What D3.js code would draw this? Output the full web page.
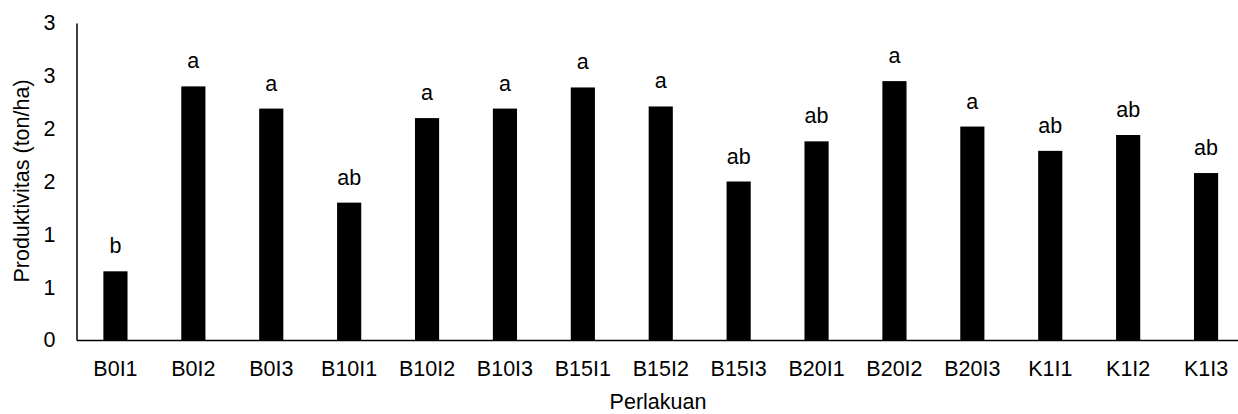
<!DOCTYPE html>
<html>
<head>
<meta charset="utf-8">
<script src="https://d3js.org/d3.v7.min.js"></script>
<style>
  body { margin: 0; background: #fff; }
  text { font-family: "Liberation Sans", Arial, sans-serif; fill: #000; }
</style>
</head>
<body>
<svg id="vis"></svg>
<script>
    // Data
    var categories = ["B0I1", "B0I2", "B0I3", "B10I1", "B10I2", "B10I3", "B15I1", "B15I2",
                      "B15I3", "B20I1", "B20I2", "B20I3", "K1I1", "K1I2", "K1I3"]
    var values = [0.65, 2.40, 2.19, 1.30, 2.10, 2.19, 2.39, 2.21, 1.50, 1.88, 2.45, 2.02, 1.79, 1.94, 1.58]
    var letters = ["b", "a", "a", "ab", "a", "a", "a", "a", "ab", "ab", "a", "a", "ab", "ab", "ab"]
    var yTicks = [0, 0.5, 1, 1.5, 2, 2.5, 3]

    var width = 1238, height = 414
    var fs = "21.5px"
    var svg = d3.select("#vis")
        .attr("width", width)
        .attr("height", height)

    // Scales
    var x = d3.scaleBand()
        .domain(categories)
        .range([76.5, 1245])
        .paddingInner(0.69)
        .paddingOuter(0.345)

    var y = d3.scaleLinear()
        .domain([0, 3])
        .range([340, 23])

    // Bars
    svg.selectAll("rect.bar")
        .data(values)
        .enter().append("rect")
        .attr("class", "bar")
        .attr("x", function(d, i) { return x(categories[i]) })
        .attr("width", x.bandwidth())
        .attr("y", function(d) { return y(d) })
        .attr("height", function(d) { return y(0) - y(d) })
        .attr("fill", "#000")

    // Significance letters
    svg.selectAll("text.lbl")
        .data(values)
        .enter().append("text")
        .attr("class", "lbl")
        .attr("x", function(d, i) { return x(categories[i]) + x.bandwidth() / 2 })
        .attr("y", function(d) { return y(d) - 18 })
        .attr("text-anchor", "middle")
        .style("font-size", fs)
        .text(function(d, i) { return letters[i] })

    // Y axis (Excel style: labels rounded to whole numbers)
    var yAxis = svg.append("g")
        .attr("transform", "translate(76.5,0)")
        .call(d3.axisLeft(y).tickValues(yTicks).tickSize(0).tickPadding(21)
            .tickFormat(function(d) { return d3.format(".0f")(d + 1e-9) }))
    yAxis.select(".domain").attr("stroke", "#000").attr("stroke-width", 1.5)
    yAxis.selectAll("text").style("font-size", fs).attr("font-family", null)

    // X axis
    var xAxis = svg.append("g")
        .attr("transform", "translate(0,340)")
        .call(d3.axisBottom(x).tickSize(0).tickPadding(21))
    xAxis.select(".domain").attr("stroke", "#000").attr("stroke-width", 1.5)
    xAxis.selectAll("text").style("font-size", fs).attr("font-family", null)

    // Axis titles
    svg.append("text")
        .attr("transform", "translate(29,181) rotate(-90)")
        .attr("text-anchor", "middle")
        .style("font-size", fs)
        .text("Produktivitas (ton/ha)")

    svg.append("text")
        .attr("x", 658)
        .attr("y", 409)
        .attr("text-anchor", "middle")
        .style("font-size", fs)
        .text("Perlakuan")
</script>
</body>
</html>
